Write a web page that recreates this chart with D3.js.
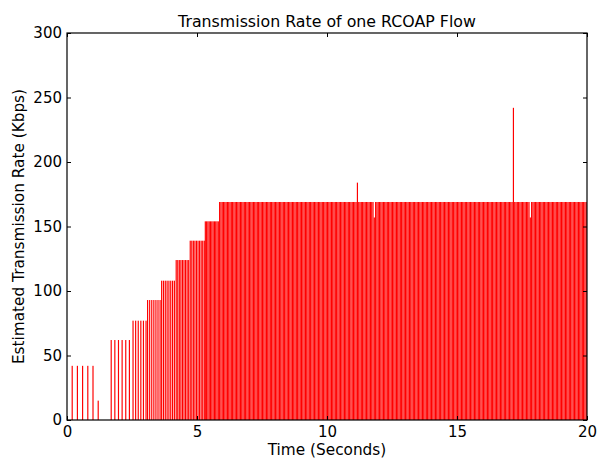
<!DOCTYPE html>
<html lang="en">
<head>
  <meta charset="UTF-8">
  <title>Transmission Rate of one RCOAP Flow</title>
  <script src="https://d3js.org/d3.v7.min.js"></script>
  <style>
    body {
      margin: 0;
      padding: 0;
      background: #fff;
      font-family: "DejaVu Sans", sans-serif;
    }
    .tick-label {
      font-size: 15px;
      fill: #000;
    }
    .axis-label {
      font-size: 15.3px;
      fill: #000;
    }
    .title {
      font-size: 15.8px;
      fill: #000;
    }
  </style>
</head>
<body>
  <div id="chart"></div>

  <script>
    // Slow start: one list of packet times per rate level
    const slowStartRates = [42, 15, 62, 77, 93, 108, 124, 139, 154];
    const slowStartTimes = [
      [0.2, 0.4, 0.6, 0.8, 1.0],
      [1.2],
      [1.70, 1.84, 1.98, 2.12, 2.26, 2.40],
      [2.54, 2.64, 2.74, 2.84, 2.94, 3.04],
      [3.10, 3.18, 3.26, 3.34, 3.42, 3.50, 3.58],
      [3.64, 3.71, 3.78, 3.85, 3.92, 3.99, 4.06, 4.13],
      [4.20, 4.26, 4.32, 4.38, 4.44, 4.50, 4.56, 4.62, 4.68],
      [4.74, 4.80, 4.86, 4.92, 4.98, 5.04, 5.10, 5.16, 5.22, 5.28],
      [5.32, 5.37, 5.42, 5.47, 5.52, 5.57, 5.62, 5.67, 5.72, 5.77, 5.82]
    ];

    // Steady state at 169 Kbps
    const steadyRate = 169;
    const steadyTimes = [
      5.87, 5.92, 5.97,
      6.02, 6.07, 6.12, 6.17, 6.22, 6.27, 6.32, 6.37, 6.42, 6.47, 6.52, 6.57, 6.62, 6.67, 6.72, 6.77, 6.82, 6.87, 6.92, 6.97,
      7.02, 7.07, 7.12, 7.17, 7.22, 7.27, 7.32, 7.37, 7.42, 7.47, 7.52, 7.57, 7.62, 7.67, 7.72, 7.77, 7.82, 7.87, 7.92, 7.97,
      8.02, 8.07, 8.12, 8.17, 8.22, 8.27, 8.32, 8.37, 8.42, 8.47, 8.52, 8.57, 8.62, 8.67, 8.72, 8.77, 8.82, 8.87, 8.92, 8.97,
      9.02, 9.07, 9.12, 9.17, 9.22, 9.27, 9.32, 9.37, 9.42, 9.47, 9.52, 9.57, 9.62, 9.67, 9.72, 9.77, 9.82, 9.87, 9.92, 9.97,
      10.02, 10.07, 10.12, 10.17, 10.22, 10.27, 10.32, 10.37, 10.42, 10.47, 10.52, 10.57, 10.62, 10.67, 10.72, 10.77, 10.82, 10.87, 10.92, 10.97,
      11.02, 11.07, 11.12, 11.22, 11.27, 11.32, 11.37, 11.42, 11.47, 11.52, 11.57, 11.62, 11.67, 11.72, 11.77, 11.87, 11.92, 11.97,
      12.02, 12.07, 12.12, 12.17, 12.22, 12.27, 12.32, 12.37, 12.42, 12.47, 12.52, 12.57, 12.62, 12.67, 12.72, 12.77, 12.82, 12.87, 12.92, 12.97,
      13.02, 13.07, 13.12, 13.17, 13.22, 13.27, 13.32, 13.37, 13.42, 13.47, 13.52, 13.57, 13.62, 13.67, 13.72, 13.77, 13.82, 13.87, 13.92, 13.97,
      14.02, 14.07, 14.12, 14.17, 14.22, 14.27, 14.32, 14.37, 14.42, 14.47, 14.52, 14.57, 14.62, 14.67, 14.72, 14.77, 14.82, 14.87, 14.92, 14.97,
      15.02, 15.07, 15.12, 15.17, 15.22, 15.27, 15.32, 15.37, 15.42, 15.47, 15.52, 15.57, 15.62, 15.67, 15.72, 15.77, 15.82, 15.87, 15.92, 15.97,
      16.02, 16.07, 16.12, 16.17, 16.22, 16.27, 16.32, 16.37, 16.42, 16.47, 16.52, 16.57, 16.62, 16.67, 16.72, 16.77, 16.82, 16.87, 16.92, 16.97,
      17.02, 17.07, 17.12, 17.22, 17.27, 17.32, 17.37, 17.42, 17.47, 17.52, 17.57, 17.62, 17.67, 17.72, 17.77, 17.87, 17.92, 17.97,
      18.02, 18.07, 18.12, 18.17, 18.22, 18.27, 18.32, 18.37, 18.42, 18.47, 18.52, 18.57, 18.62, 18.67, 18.72, 18.77, 18.82, 18.87, 18.92, 18.97,
      19.02, 19.07, 19.12, 19.17, 19.22, 19.27, 19.32, 19.37, 19.42, 19.47, 19.52, 19.57, 19.62, 19.67, 19.72, 19.77, 19.82, 19.87, 19.92, 19.97
    ];

    // Samples that leave the steady level
    const outlierTimes = [11.17, 11.82, 17.17, 17.82];
    const outlierRates = [184, 157, 242, 157];

    const xTicks = [0, 5, 10, 15, 20];
    const yTicks = [0, 50, 100, 150, 200, 250, 300];

    // Build one flat list of bars
    const bars = [];
    slowStartTimes.forEach((ts, i) => ts.forEach(t => bars.push({ t: t, r: slowStartRates[i] })));
    steadyTimes.forEach(t => bars.push({ t: t, r: steadyRate }));
    outlierTimes.forEach((t, i) => bars.push({ t: t, r: outlierRates[i] }));

    const width = 597;
    const height = 459;
    const margin = { left: 67, right: 587, top: 33, bottom: 420 };
    const barWidth = 0.045; // seconds

    const svg = d3.select("#chart")
      .append("svg")
      .attr("width", width)
      .attr("height", height);

    const x = d3.scaleLinear().domain([0, 20]).range([margin.left, margin.right]);
    const y = d3.scaleLinear().domain([0, 300]).range([margin.bottom, margin.top]);

    svg.append("clipPath")
      .attr("id", "plot-clip")
      .append("rect")
      .attr("x", margin.left)
      .attr("y", margin.top)
      .attr("width", margin.right - margin.left)
      .attr("height", margin.bottom - margin.top);

    // Bars
    svg.append("g")
      .attr("clip-path", "url(#plot-clip)")
      .selectAll("rect")
      .data(bars)
      .enter()
      .append("rect")
      .attr("x", d => x(d.t - barWidth / 2))
      .attr("y", d => y(d.r))
      .attr("width", x(barWidth) - x(0))
      .attr("height", d => y(0) - y(d.r))
      .attr("fill", "#ff0000");

    // Axes, ticks pointing inwards on all four sides
    const tickLen = 4;
    svg.append("g")
      .attr("transform", `translate(0,${margin.bottom})`)
      .call(d3.axisBottom(x).tickValues(xTicks).tickSizeInner(-tickLen).tickSizeOuter(0).tickPadding(6))
      .call(g => g.select(".domain").remove());
    svg.append("g")
      .attr("transform", `translate(0,${margin.top})`)
      .call(d3.axisTop(x).tickValues(xTicks).tickSizeInner(-tickLen).tickSizeOuter(0).tickFormat(""))
      .call(g => g.select(".domain").remove());
    svg.append("g")
      .attr("transform", `translate(${margin.left},0)`)
      .call(d3.axisLeft(y).tickValues(yTicks).tickSizeInner(-tickLen).tickSizeOuter(0).tickPadding(5))
      .call(g => g.select(".domain").remove());
    svg.append("g")
      .attr("transform", `translate(${margin.right},0)`)
      .call(d3.axisRight(y).tickValues(yTicks).tickSizeInner(-tickLen).tickSizeOuter(0).tickFormat(""))
      .call(g => g.select(".domain").remove());

    svg.selectAll(".tick line").attr("stroke", "#000").attr("stroke-width", 1);
    svg.selectAll(".tick text")
      .attr("class", "tick-label")
      .attr("font-family", "DejaVu Sans")
      .attr("font-size", null);

    // Frame
    svg.append("rect")
      .attr("x", margin.left)
      .attr("y", margin.top)
      .attr("width", margin.right - margin.left)
      .attr("height", margin.bottom - margin.top)
      .attr("fill", "none")
      .attr("stroke", "#000")
      .attr("stroke-width", 1.2);

    // Title and labels
    svg.append("text")
      .attr("class", "title")
      .attr("x", (margin.left + margin.right) / 2)
      .attr("y", 27)
      .attr("text-anchor", "middle")
      .text("Transmission Rate of one RCOAP Flow");

    svg.append("text")
      .attr("class", "axis-label")
      .attr("x", (margin.left + margin.right) / 2)
      .attr("y", 455)
      .attr("text-anchor", "middle")
      .text("Time (Seconds)");

    svg.append("text")
      .attr("class", "axis-label")
      .attr("transform", `translate(24,${(margin.top + margin.bottom) / 2}) rotate(-90)`)
      .attr("text-anchor", "middle")
      .text("Estimated Transmission Rate (Kbps)");
  </script>
</body>
</html>
